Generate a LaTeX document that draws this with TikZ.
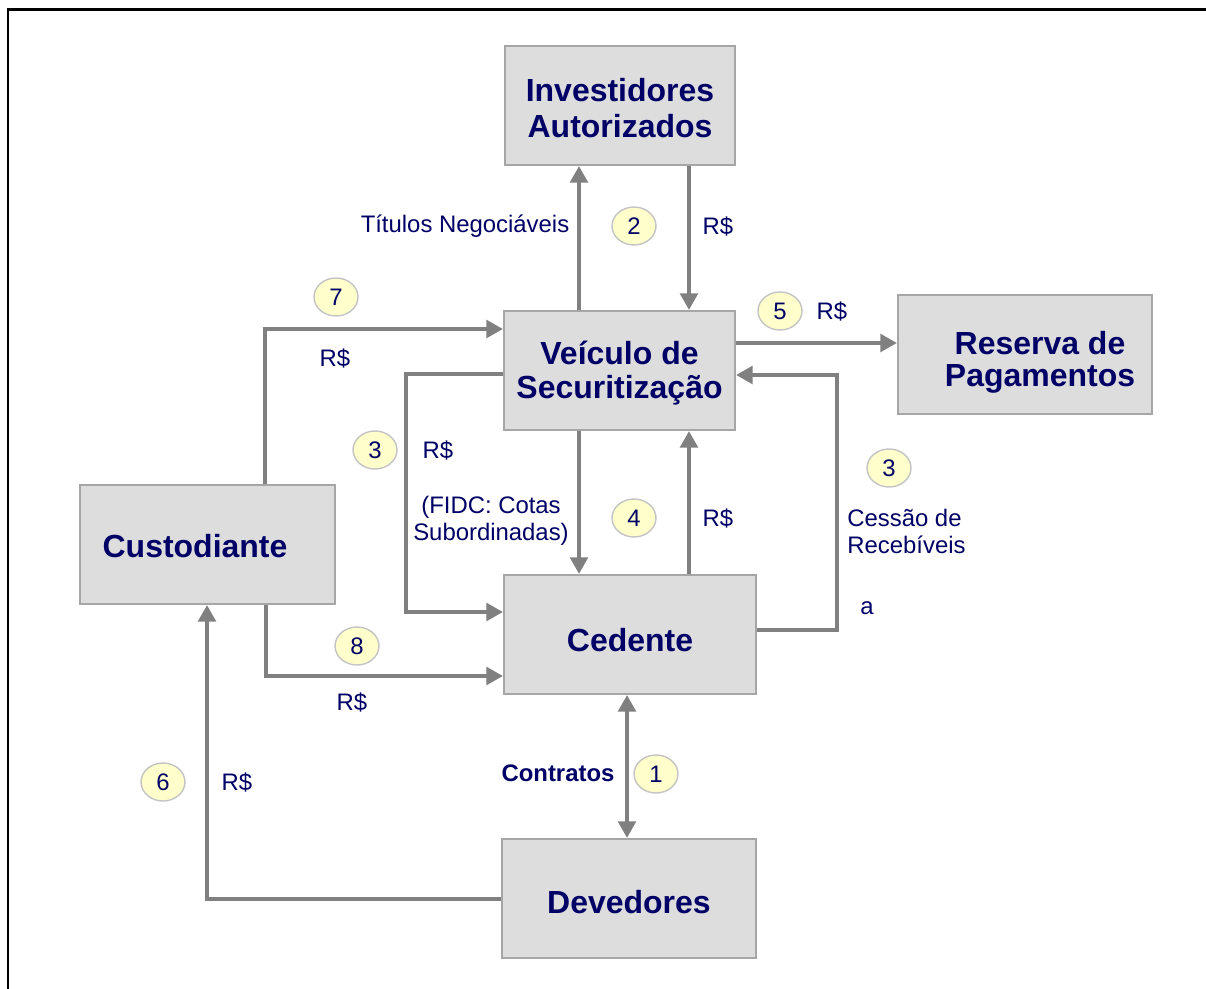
\documentclass[tikz,border=0pt]{standalone}
\usepackage{fontspec}
\setmainfont{Liberation Sans}
\usetikzlibrary{arrows.meta,shapes.geometric}
\definecolor{navy}{HTML}{000066}
\definecolor{boxfill}{HTML}{DDDDDD}
\definecolor{boxline}{HTML}{A6A6A6}
\definecolor{flowgray}{HTML}{808080}
\definecolor{stepfill}{HTML}{FFFFCC}
\definecolor{stepline}{HTML}{C4C4C4}
% drop the text a little inside its box
\newcommand\lowerby[2]{\raisebox{-#1}[\height][\depth]{#2}}
\newcommand\twolines[3][1]{{\renewcommand\arraystretch{#1}\begin{tabular}{@{}c@{}}#2\\#3\end{tabular}}}
\newcommand\gap[1]{\rule{#1}{0pt}}
\tikzset{
  entity/.style={draw=boxline, line width=1.2pt, fill=boxfill, text=navy,
    font=\bfseries\fontsize{18.2pt}{19.9pt}\selectfont, inner sep=0pt,
    minimum height=2.38cm},
  flow/.style={draw=flowgray, line width=2.3pt, -{Triangle[length=9.5pt,width=10pt]}},
  flowboth/.style={draw=flowgray, line width=2.3pt,
    {Triangle[length=9.5pt,width=10pt]}-{Triangle[length=9.5pt,width=10pt]}},
  stepno/.style={ellipse, draw=stepline, line width=0.8pt, fill=stepfill,
    minimum width=0.88cm, minimum height=0.76cm, inner sep=0pt, text=navy,
    font=\fontsize{13.6pt}{15.4pt}\selectfont},
  note/.style={text=navy, font=\fontsize{13.6pt}{15.4pt}\selectfont,
    inner sep=0pt, align=center},
}

\begin{document}
\begin{tikzpicture}[x=0.02cm, y=-0.02cm]
    \useasboundingbox (0,0) rectangle (1206,989);
    \draw[line width=1.7pt] (8,989) -- (8,10) -- (1206,10);

    % boxes
    \node[entity, minimum width=4.6cm] (inv) at (620,105.5)
        {\lowerby{0.13cm}{\twolines[1.03]{Investidores}{Autorizados}}};
    \node[entity, minimum width=4.62cm] (veic) at (619.5,370.5)
        {\lowerby{0.09cm}{\twolines[0.98]{Veículo de}{Securitização}}};
    \node[entity, minimum width=5.08cm] (res) at (1025,354.5)
        {\gap{0.6cm}\lowerby{0.18cm}{\twolines[0.92]{Reserva de}{Pagamentos}}};
    \node[entity, minimum width=5.1cm] (cust) at (207.5,544.5)
        {\lowerby{0.03cm}{Custodiante}\gap{0.5cm}};
    \node[entity, minimum width=5.04cm] (ced) at (630,634.5) {\lowerby{0.11cm}{Cedente}};
    \node[entity, minimum width=5.08cm] (dev) at (629,898.5) {\lowerby{0.07cm}{Devedores}};

    % bends
    \coordinate (xa) at (579,0);
    \coordinate (xb) at (689,0);
    \coordinate (xg) at (627,0);
    \coordinate (ya) at (0,343);
    \coordinate (cedR) at (837,630);
    \coordinate (veicR) at (837,375);
    \coordinate (veicL) at (406,374);
    \coordinate (cedL) at (406,612);
    \coordinate (custT) at (265,329);
    \coordinate (custB) at (266,676);
    \coordinate (devL) at (207,899);

    % connectors
    \draw[flow] (veic.north -| xa) -- (inv.south -| xa);
    \draw[flow] (inv.south -| xb) -- (veic.north -| xb);
    \draw[flow] (veic.east |- ya) -- (res.west |- ya);
    \draw[flow] (ced.east |- cedR) -- (cedR) -- (veicR) -- (veic.east |- veicR);
    \draw[flow] (veic.west |- veicL) -- (veicL) -- (cedL) -- (ced.west |- cedL);
    \draw[flow] (veic.south -| xa) -- (ced.north -| xa);
    \draw[flow] (ced.north -| xb) -- (veic.south -| xb);
    \draw[flow] (cust.north -| custT) -- (custT) -- (veic.west |- custT);
    \draw[flow] (cust.south -| custB) -- (custB) -- (ced.west |- custB);
    \draw[flow] (dev.west |- devL) -- (devL) -- (cust.south -| devL);
    \draw[flowboth] (ced.south -| xg) -- (dev.north -| xg);

    % step numbers
    \node[stepno] (s2) at (634,226) {2};
    \node[stepno] (s7) at (336,297) {7};
    \node[stepno] (s5) at (780,311) {5};
    \node[stepno] (s3a) at (375,450) {3};
    \node[stepno] (s3b) at (889,468) {3};
    \node[stepno] (s4) at (634,518) {4};
    \node[stepno] (s8) at (357,646) {8};
    \node[stepno] (s1) at (656,774) {1};
    \node[stepno] (s6) at (163,782) {6};

    % labels
    \node[note] (tneg) at (465,226) {Títulos Negociáveis};
    \node[note] (r2) at (718,226) {R\$};
    \node[note] (r5) at (832,311) {R\$};
    \node[note] (r7) at (335,358) {R\$};
    \node[note] (r3) at (438,450) {R\$};
    \node[note] (fidc) at (491,521) {(FIDC: Cotas\\Subordinadas)};
    \node[note] (r4) at (718,518) {R\$};
    \node[note, anchor=west, align=left] (cess) at (847,531) {Cessão de\\Recebíveis};
    \node[note] (la) at (867,608) {a};
    \node[note] (r8) at (352,702) {R\$};
    \node[note, font=\bfseries\fontsize{13.6pt}{15.4pt}\selectfont] (contr) at (558,773) {Contratos};
    \node[note] (r6) at (237,782) {R\$};
\end{tikzpicture}
\end{document}
